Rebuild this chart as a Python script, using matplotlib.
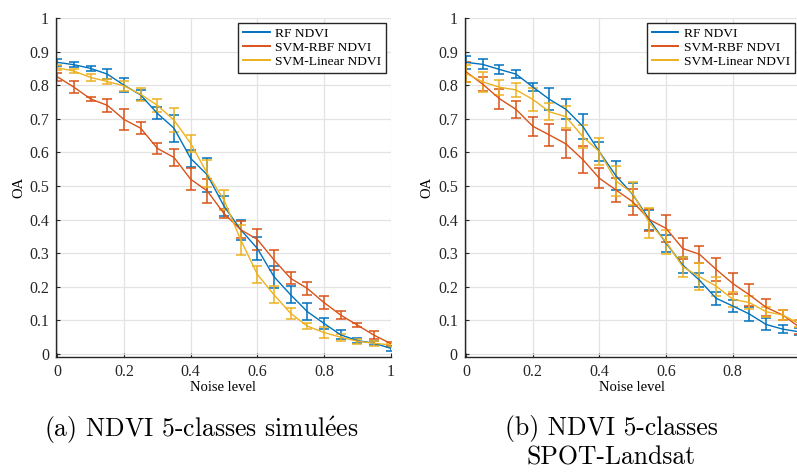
import matplotlib
matplotlib.use("Agg")
import matplotlib.pyplot as plt
from matplotlib.lines import Line2D

plt.rcParams["font.family"] = ["Liberation Serif", "DejaVu Serif"]
plt.rcParams["mathtext.fontset"] = "cm"

noise = [0.0, 0.05, 0.1, 0.15, 0.2, 0.25, 0.3, 0.35, 0.4, 0.45, 0.5,
         0.55, 0.6, 0.65, 0.7, 0.75, 0.8, 0.85, 0.9, 0.95, 1.0]

# (a) simulated
rf_a = [0.868, 0.861, 0.850, 0.833, 0.800, 0.771, 0.716, 0.672, 0.582, 0.533, 0.440,
        0.370, 0.314, 0.230, 0.176, 0.126, 0.091, 0.057, 0.040, 0.032, 0.017]
rf_a_err = [0.010, 0.008, 0.008, 0.015, 0.020, 0.015, 0.018, 0.040, 0.025, 0.050, 0.030,
            0.030, 0.033, 0.033, 0.025, 0.025, 0.017, 0.013, 0.007, 0.006, 0.008]
rbf_a = [0.825, 0.794, 0.759, 0.740, 0.698, 0.672, 0.612, 0.585, 0.520, 0.485, 0.418,
         0.370, 0.341, 0.280, 0.225, 0.195, 0.153, 0.116, 0.086, 0.056, 0.031]
rbf_a_err = [0.012, 0.018, 0.005, 0.020, 0.030, 0.018, 0.017, 0.025, 0.033, 0.035, 0.013,
             0.025, 0.030, 0.030, 0.018, 0.020, 0.020, 0.012, 0.007, 0.012, 0.006]
lin_a = [0.852, 0.842, 0.823, 0.811, 0.798, 0.773, 0.740, 0.696, 0.627, 0.537, 0.458,
         0.340, 0.237, 0.176, 0.121, 0.083, 0.064, 0.050, 0.038, 0.032, 0.027]
lin_a_err = [0.008, 0.007, 0.010, 0.007, 0.015, 0.020, 0.020, 0.035, 0.025, 0.040, 0.030,
             0.045, 0.025, 0.025, 0.017, 0.010, 0.017, 0.010, 0.007, 0.008, 0.006]

# (b) SPOT-Landsat
rf_b = [0.868, 0.862, 0.847, 0.833, 0.795, 0.758, 0.728, 0.678, 0.602, 0.530, 0.475,
        0.400, 0.330, 0.265, 0.220, 0.166, 0.143, 0.119, 0.088, 0.074, 0.066]
rf_b_err = [0.020, 0.015, 0.013, 0.013, 0.012, 0.033, 0.030, 0.037, 0.028, 0.043, 0.035,
            0.030, 0.025, 0.025, 0.022, 0.020, 0.017, 0.020, 0.018, 0.012, 0.010]
rbf_b = [0.840, 0.803, 0.760, 0.728, 0.678, 0.652, 0.625, 0.579, 0.523, 0.488, 0.453,
         0.400, 0.374, 0.314, 0.297, 0.252, 0.210, 0.176, 0.139, 0.116, 0.080]
rbf_b_err = [0.030, 0.020, 0.030, 0.025, 0.028, 0.032, 0.042, 0.040, 0.030, 0.035, 0.038,
             0.033, 0.040, 0.030, 0.025, 0.035, 0.030, 0.033, 0.025, 0.015, 0.020]
lin_b = [0.835, 0.810, 0.794, 0.786, 0.758, 0.721, 0.706, 0.647, 0.602, 0.515, 0.478,
         0.390, 0.334, 0.260, 0.230, 0.202, 0.163, 0.153, 0.126, 0.116, 0.090]
lin_b_err = [0.025, 0.030, 0.022, 0.022, 0.035, 0.025, 0.032, 0.035, 0.040, 0.045, 0.035,
             0.045, 0.035, 0.030, 0.040, 0.028, 0.022, 0.020, 0.015, 0.015, 0.010]

labels = ["RF NDVI", "SVM-RBF NDVI", "SVM-Linear NDVI"]
colors = ["#0072BD", "#D95319", "#EDB120"]
xticks = [0, 0.2, 0.4, 0.6, 0.8, 1.0]
xticklabels_a = ["0", "0.2", "0.4", "0.6", "0.8", "1"]
xticklabels_b = ["0", "0.2", "0.4", "0.6", "0.8", ""]  # "1" falls off the page edge
yticks = [0, 0.1, 0.2, 0.3, 0.4, 0.5, 0.6, 0.7, 0.8, 0.9, 1.0]
yticklabels = ["0", "0.1", "0.2", "0.3", "0.4", "0.5", "0.6", "0.7", "0.8", "0.9", "1"]

W, H = 797, 472
fig = plt.figure(figsize=(W / 100, H / 100), dpi=100)


def panel(left_px, series, xlabels):
    ax = fig.add_axes([left_px / W, (H - 356.7) / H, 334.7 / W, 338.7 / H])
    for (y, e), c in zip(series, colors):
        ax.errorbar(noise, y, yerr=e, color=c, lw=1.0, elinewidth=1.1,
                    capsize=3.5, capthick=1.1)
    ax.set_xlim(-0.004, 1.0)
    ax.set_ylim(-0.008, 1.0)
    ax.set_xticks(xticks)
    ax.set_xticklabels(xlabels)
    ax.set_yticks(yticks)
    ax.set_yticklabels(yticklabels)
    ax.grid(True, color="#e3e3e3", lw=0.9)
    ax.set_axisbelow(True)
    for s in ["top", "right"]:
        ax.spines[s].set_visible(False)
    for s in ["left", "bottom"]:
        ax.spines[s].set_color("#262626")
        ax.spines[s].set_linewidth(1.0)
    ax.tick_params(direction="in", length=3, labelsize=11.5, colors="#262626", pad=5)
    ax.set_xlabel("Noise level", fontsize=10.5, labelpad=1)
    ax.set_ylabel("OA", fontsize=10.5, labelpad=3)
    handles = [Line2D([], [], color=c, lw=1.4) for c in colors]
    leg = ax.legend(handles, labels, loc="upper right", fontsize=9.7, frameon=True,
                    fancybox=False, edgecolor="#262626", framealpha=1,
                    handlelength=2.0, handletextpad=0.4, borderpad=0.35,
                    labelspacing=0.12, borderaxespad=0.35)
    leg.get_frame().set_linewidth(1.0)
    return ax


panel(56, [(rf_a, rf_a_err), (rbf_a, rbf_a_err), (lin_a, lin_a_err)], xticklabels_a)
panel(464.7, [(rf_b, rf_b_err), (rbf_b, rbf_b_err), (lin_b, lin_b_err)], xticklabels_b)

cap_font = ["cmr10", "DejaVu Serif"]
fig.text(201 / W, 1 - 430 / H, r"(a) NDVI 5-classes simul$\mathrm{\acute{e}}$es",
         ha="center", va="center", fontsize=18.5, family=cap_font)
fig.text(611 / W, 1 - 429 / H, "(b) NDVI 5-classes", ha="center", va="center",
         fontsize=18.5, family=cap_font)
fig.text(611 / W, 1 - 458 / H, "SPOT-Landsat", ha="center", va="center",
         fontsize=18.5, family=cap_font)

fig.savefig("out.png", dpi=100)
